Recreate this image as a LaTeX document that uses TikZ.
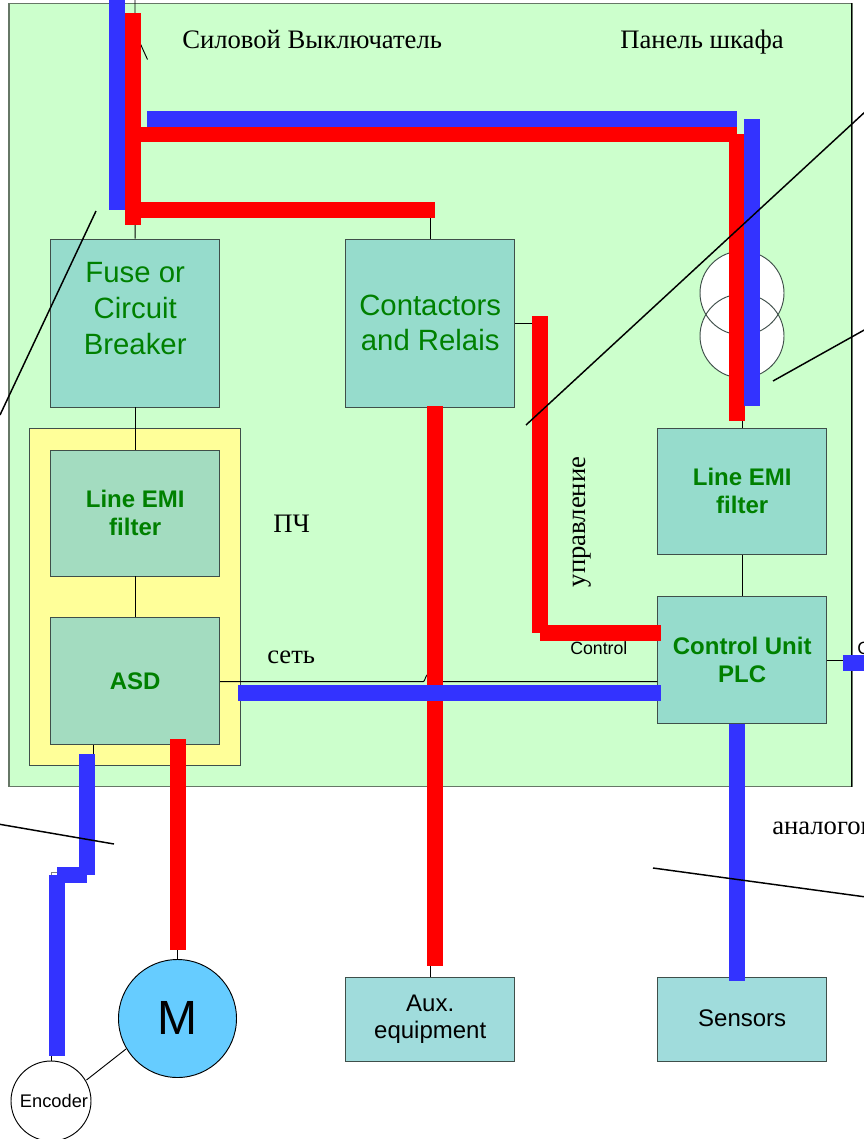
\documentclass[tikz,border=0pt]{standalone}
\usepackage{fontspec}
\setmainfont{Liberation Serif}
\newfontfamily\arialf{Liberation Sans}
\tikzset{
  x=0.75pt,y=-0.75pt,
  conn/.style={draw=black,line width=0.7pt},
  hair/.style={draw=black,line width=1.1pt},
  redbus/.style={draw=none,fill=busred},
  bluebus/.style={draw=none,fill=busblue},
  boxbase/.style={draw=boxline,line width=0.7pt,rectangle,inner sep=0pt,minimum width=126.6pt,align=center},
  greenbox/.style={boxbase,fill=boxteal,text=boxgreen,minimum height=126pt,font=\arialf\fontsize{22}{27}\selectfont},
  emibox/.style={boxbase,fill=boxteal,text=boxgreen,font=\arialf\bfseries\fontsize{18}{21.5}\selectfont},
  asdbox/.style={emibox,fill=boxsage},
  auxbox/.style={boxbase,fill=boxaqua,text=black,minimum height=63pt,font=\arialf\fontsize{18}{21.5}\selectfont},
  serif/.style={inner sep=0pt,font=\fontsize{20}{24}\selectfont},
  small/.style={inner sep=0pt,font=\arialf\fontsize{13.3}{16}\selectfont},
  motorshape/.style={circle,draw=black,fill=motorblue,line width=0.7pt,inner sep=0pt,minimum size=88.5pt,font=\arialf\fontsize{36}{40}\selectfont},
  encshape/.style={circle,draw=black,fill=white,line width=0.7pt,inner sep=0pt,minimum size=60pt,font=\arialf\fontsize{13.7}{16}\selectfont},
}
\definecolor{panelgreen}{HTML}{CCFFCC}
\definecolor{panelyellow}{HTML}{FFFF99}
\definecolor{boxteal}{HTML}{96DCCC}
\definecolor{boxsage}{HTML}{A3DCC0}
\definecolor{boxaqua}{HTML}{A0DCDC}
\definecolor{boxgreen}{HTML}{008000}
\definecolor{boxline}{HTML}{3F4F4A}
\definecolor{panelline}{HTML}{667766}
\definecolor{busred}{HTML}{FF0000}
\definecolor{busblue}{HTML}{3333FF}
\definecolor{motorblue}{HTML}{66CCFF}
\begin{document}
\begin{tikzpicture}
\useasboundingbox (0,0) rectangle (864,1139);
\clip (0,0) rectangle (864,1139);
\fill[white] (0,0) rectangle (864,1139);
% panels
\node[draw=panelline,fill=panelgreen,line width=0.8pt,rectangle,inner sep=0pt,minimum width=632.25pt,minimum height=587.75pt] (panel) at (430.5,395) {};
\draw[black,line width=0.7pt] (851.7,3.3) -- (851.7,787);
\node[draw=boxline,fill=panelyellow,line width=0.7pt,rectangle,inner sep=0pt,minimum width=158.25pt,minimum height=252.75pt] (vfd) at (135.2,597.3) {};
% transformer
\node[circle,fill=white,inner sep=0pt,minimum size=63pt] (t1) at (742,293) {};
\node[circle,fill=white,inner sep=0pt,minimum size=63pt] (t2) at (742,336) {};
\node[circle,draw=boxline,line width=0.7pt,inner sep=0pt,minimum size=63pt] (t1o) at (742,293) {};
\node[circle,draw=boxline,line width=0.7pt,inner sep=0pt,minimum size=63pt] (t2o) at (742,336) {};
% boxes
\node[greenbox] (fuse) at (135.2,323) {\raisebox{0.7pt}{Fuse or}\\\raisebox{0.7pt}{Circuit}\\\raisebox{0.7pt}{Breaker}\\[-6pt]\mbox{}};
\node[greenbox] (cont) at (430.2,323) {Contactors\\\raisebox{0.7pt}{and Relais}};
\node[emibox,fill=boxsage,minimum height=94.5pt] (emil) at (135.2,513) {Line EMI\\filter};
\node[asdbox,minimum height=95.25pt] (asd) at (135.2,681.3) {ASD};
\node[emibox,minimum height=94.5pt] (emir) at (742.2,491.8) {\raisebox{1.7pt}{Line EMI}\\\raisebox{1.7pt}{filter}};
\node[emibox,minimum height=95.25pt] (plc) at (742.2,660.3) {Control Unit\\\raisebox{0.7pt}{PLC}};
\node[auxbox] (aux) at (430.2,1019) {\raisebox{-3.2pt}{Aux.}\\\raisebox{-2.2pt}{equipment}};
\node[auxbox] (sens) at (742.2,1019) {\raisebox{0.7pt}{Sensors}};
% free coordinates
\coordinate (top) at (135,0);
\coordinate (ju1) at (423,681.7);
\coordinate (ju2) at (427,675);
\coordinate (ju3) at (435,681.7);
\coordinate (ext) at (845,660.5);
\coordinate (n1a) at (135,32);
\coordinate (n1b) at (147.5,59.5);
\coordinate (wa) at (51,876);
\coordinate (wb) at (51,872);
\coordinate (wc) at (60,872);
\coordinate (contbus) at (534,323);
% thin connectors
\draw[conn] (top) -- (fuse.north);
\draw[conn] (fuse) -- (emil);
\draw[conn] (emil) -- (asd);
\draw[conn] (cont.north) -- (430.2,210);
\draw[conn] (cont) -- (aux);
\draw[conn] (cont.east) -- (contbus);
\draw[conn] (emir) -- (plc);
\draw[conn] (emir.north) -- (742.2,415);
\draw[conn] (asd.east |- ju1) -- (ju1) .. controls (425,681.7) and (425,677) .. (ju2) -- (ju3 |- ju2) -- (ju3) -- (plc.west |- ju1);
\draw[conn] (plc.east |- ext) -- (ext);
\draw[conn] (93,745) -- (93,760);
\draw[conn] (177.5,974) -- (177.5,940);
\draw[conn] (86.5,1080) -- (126,1049);
\draw[conn] (51,1071) -- (wa);
\draw[conn,draw=gray] (wa) -- (wb) -- (wc);
\draw[conn] (n1a) -- (n1b);
\node[motorshape] (motor) at (177.5,1018.5) {\raisebox{1.5pt}{M}};
\node[encshape] (enc) at (51,1101) {\hspace{4.5pt}Encoder};
% thick buses
\fill[bluebus] (109,-2) rectangle (125,209.5);
\fill[redbus] (125,13) rectangle (141,224.5);
\fill[bluebus] (147,111) rectangle (737,127);
\fill[redbus] (125,126.5) rectangle (737,142);
\fill[redbus] (729,134) rectangle (745,421);
\fill[bluebus] (744,119) rectangle (760,406);
\fill[redbus] (141,201.5) rectangle (435,217.5);
\fill[redbus] (427,406) rectangle (443,966);
\fill[redbus] (532,316) rectangle (548,632.5);
\fill[redbus] (540,625) rectangle (661,641);
\fill[bluebus] (238,685) rectangle (661,701);
\fill[bluebus] (729,724) rectangle (745,981);
\fill[bluebus] (843,655) rectangle (866,671);
\fill[redbus] (170,739) rectangle (186,950);
\fill[bluebus] (79,754) rectangle (95,875);
\fill[bluebus] (57,867) rectangle (87,883);
\fill[bluebus] (49,875) rectangle (65,1056);
% labels
\node[serif,anchor=base west] (l1) at (182,48) {Силовой Выключатель};
\node[serif,anchor=base west] (l2) at (620,48) {Панель шкафа};
\node[serif,anchor=base west] (l3) at (273,532) {ПЧ};
\node[serif,anchor=base west] (l4) at (267,663) {сеть};
\node[serif,rotate=90,anchor=base] (l5) at (585,522) {управление};
\node[serif,anchor=base west] (l6) at (772,834) {аналогов};
\node[small,anchor=base west] (l7) at (570,654) {Control};
\node[small,anchor=base west] (l8) at (857,654) {C};
% black leader lines
\coordinate (a1) at (96,211); \coordinate (a2) at (0,415);
\coordinate (b1) at (526,425); \coordinate (b2) at (866,111);
\coordinate (c1) at (773,381); \coordinate (c2) at (866,329);
\coordinate (d1) at (-2,824); \coordinate (d2) at (114,844);
\coordinate (e1) at (653,868); \coordinate (e2) at (866,897);
\draw[hair] (a1) -- (a2);
\draw[hair] (b1) -- (b2);
\draw[hair] (c1) -- (c2);
\draw[hair] (d1) -- (d2);
\draw[hair] (e1) -- (e2);
\end{tikzpicture}
\end{document}
